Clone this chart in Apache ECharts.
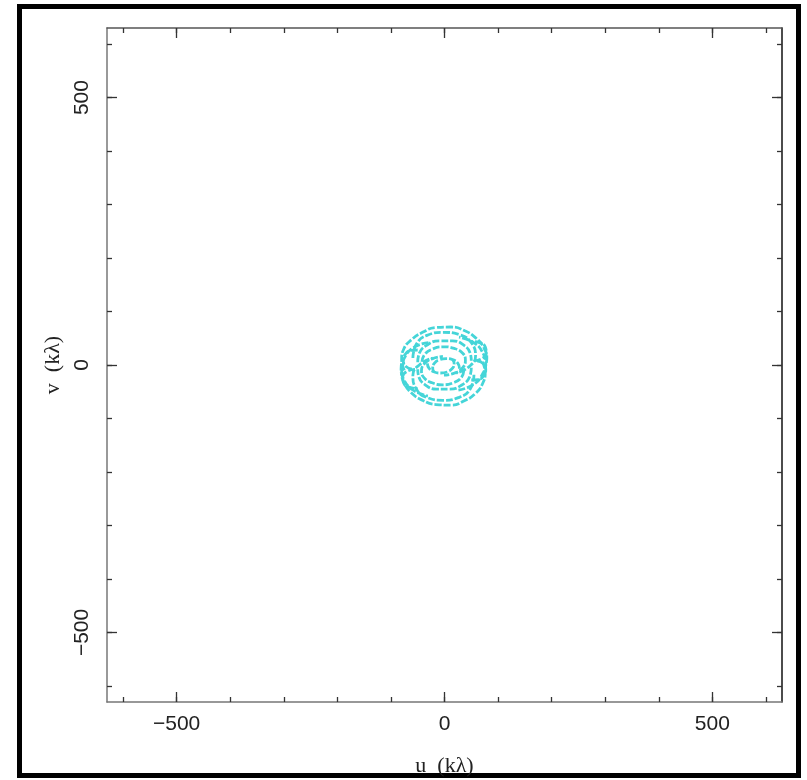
<!DOCTYPE html>
<html><head><meta charset="utf-8">
<script src="https://cdn.jsdelivr.net/npm/echarts@6/dist/echarts.min.js"></script>
<style>html,body{margin:0;padding:0;background:#fff}#c{width:807px;height:780px}</style>
</head><body><div id="c"></div>
<script>
// ---- data (u, v in kλ) ----
const axisMin = -630, axisMax = 630;
const minorTicks = [-600, -500, -400, -300, -200, -100, 0, 100, 200, 300, 400, 500, 600];
const majorTicks = [-500, 0, 500];
const xName = 'u  (kλ)';
const yName = 'v  (kλ)';

const track1 = [[-75, -10], [-80, 10], [-76, 30], [-62, 47], [-41, 61], [-16, 70], [12, 71], [38, 64], [59, 50], [73, 33], [79, 13], [75, -7]];
const track2 = [[71, 6], [76, -14], [71, -35], [58, -53], [37, -67], [12, -75], [-16, -74], [-41, -66], [-62, -52], [-75, -34], [-80, -14], [-76, 6]];
const track3 = [[-59, 13], [-52, 40], [-31, 56], [-3, 61], [27, 57], [49, 43], [58, 17], [46, -3], [22, -15]];
const track4 = [[55, -18], [48, -45], [26, -61], [-3, -66], [-32, -61], [-52, -46], [-59, -19], [-46, 1], [-22, 13]];
const track5 = [[-42, 6], [-37, 20], [-22, 30], [-2, 34], [18, 31], [34, 22], [39, 9], [34, -5], [19, -15], [-1, -19]];
const track6 = [[36, -11], [31, -24], [17, -33], [-3, -37], [-24, -33], [-38, -24], [-43, -11], [-37, 3], [-22, 12], [-3, 16]];
const track7 = [[-30, 42], [-59, 32], [-76, 11], [-81, -7], [-77, -25], [-60, -46], [-31, -58]];
const track8 = [[26, -47], [55, -36], [72, -15], [77, 3], [73, 20], [56, 41], [27, 52]];
const track9 = [[28, -7], [25, 3], [15, 10], [3, 12], [-9, 10], [-19, 3], [-22, -6], [-20, -13]];
const track10 = [[-32, 3], [-29, -6], [-19, -13], [-7, -15], [5, -13], [15, -6], [18, 3], [16, 9]];
const track11 = [[-50, 28], [-64, 27], [-74, 19], [-77, 8], [-72, -3], [-60, -8]];
const track12 = [[50, -28], [64, -27], [74, -19], [77, -8], [72, 3], [60, 8]];
const track13 = [[-55, -8], [-70, -12], [-78, -22], [-76, -34], [-65, -42], [-50, -44]];
const track14 = [[55, 8], [70, 12], [78, 22], [76, 34], [65, 42], [50, 44]];
const track15 = [[-50, 5], [-47, 22], [-33, 37], [-10, 45], [15, 45], [36, 37], [48, 22], [50, 8]];
const track16 = [[50, -5], [47, -22], [33, -37], [10, -45], [-15, -45], [-36, -37], [-48, -22], [-50, -8]];
const tracks = [track1, track2, track3, track4, track5, track6, track7, track8,
                track9, track10, track11, track12, track13, track14, track15, track16];

// ---- chart ----
const chart = echarts.init(document.getElementById('c'), null, {renderer: 'canvas'});
const fmt = v => String(v).replace('-', '\u2212');
const labelFont = {fontFamily: '"Liberation Sans", Arial, sans-serif', fontSize: 21, color: '#222'};
const nameFont = {fontFamily: '"Liberation Serif", "DejaVu Serif", serif', fontSize: 22, color: '#222'};

function mkAxis(dim, pos, ticks, len, opts) {
  const a = {
    type: 'value', position: pos, min: axisMin, max: axisMax,
    splitLine: {show: false},
    axisLine: {show: !!opts.line, onZero: false, lineStyle: {color: opts.lineColor || '#666', width: 1.5}},
    axisTick: {show: true, inside: true, length: len, customValues: ticks, lineStyle: {color: '#333', width: 1.3}},
    axisLabel: {show: !!opts.label, customValues: majorTicks, formatter: fmt, ...labelFont},
  };
  if (opts.label) {
    a.axisLabel.margin = dim === 'x' ? 12 : 14;
    if (dim === 'y') a.axisLabel.rotate = 90;
  }
  if (opts.name) {
    a.name = opts.name; a.nameLocation = 'middle';
    a.nameGap = dim === 'x' ? 53 : 37;
    a.nameTextStyle = nameFont;
    if (dim === 'y') a.nameRotate = 90;
  }
  return a;
}

const xAxes = [
  mkAxis('x', 'bottom', minorTicks, 5, {line: true, label: true, name: xName, lineColor: '#777'}),
  mkAxis('x', 'bottom', majorTicks, 10, {}),
  mkAxis('x', 'top', minorTicks, 5, {line: true, lineColor: '#555'}),
  mkAxis('x', 'top', majorTicks, 10, {}),
];
const yAxes = [
  mkAxis('y', 'left', minorTicks, 5, {line: true, label: true, name: yName, lineColor: '#777'}),
  mkAxis('y', 'left', majorTicks, 10, {}),
  mkAxis('y', 'right', minorTicks, 5, {line: true, lineColor: '#111'}),
  mkAxis('y', 'right', majorTicks, 10, {}),
];

const series = tracks.map((t, i) => ({
  type: 'line', name: 'track' + (i + 1), data: t, xAxisIndex: 0, yAxisIndex: 0,
  showSymbol: false, smooth: true, silent: true, animation: false,
  lineStyle: {color: '#45d5d8', width: 2.8, type: [7, 2]}
}));

chart.setOption({
  animation: false,
  backgroundColor: '#fff',
  grid: {left: 107, top: 28, width: 675, height: 674, containLabel: false, outerBoundsMode: 'none'},
  xAxis: xAxes,
  yAxis: yAxes,
  series: series,
  graphic: [{type: 'rect', shape: {x: 19.5, y: 6.5, width: 779, height: 769}, style: {fill: null, stroke: '#000', lineWidth: 5}, silent: true}]
});
</script></body></html>
